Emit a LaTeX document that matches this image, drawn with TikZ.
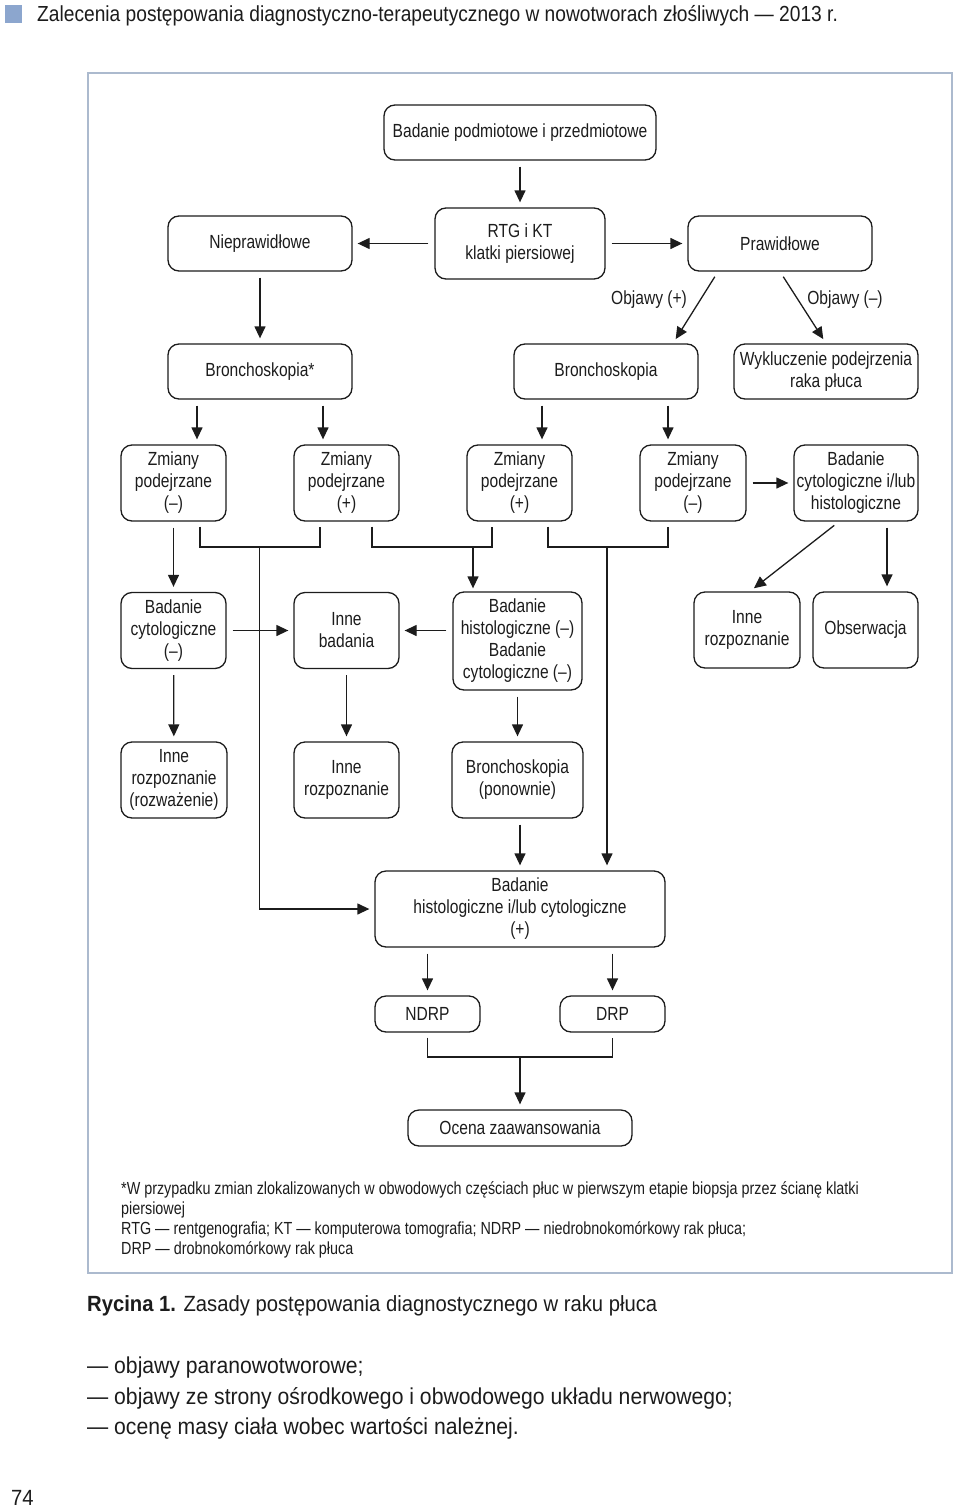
\documentclass[tikz,border=0pt]{standalone}
\usepackage{fontspec}
\setmainfont{Liberation Sans}[FakeStretch=0.82]
\newfontfamily\widerfont{Liberation Sans}[FakeStretch=0.88]
\newfontfamily\widestfont{Liberation Sans}[FakeStretch=0.92]
\usetikzlibrary{arrows.meta,calc}
\definecolor{frameblue}{RGB}{172,186,206}
\definecolor{sqblue}{RGB}{140,166,206}
\definecolor{ink}{RGB}{28,28,28}
\begin{document}
\begin{tikzpicture}[x=1pt,y=-1pt,
  box/.style={draw=ink, line width=1.3pt, rounded corners=11pt, align=center, inner sep=0pt, font=\fontsize{19}{22}\selectfont, text=ink},
  sz/.style 2 args={minimum width=#1, minimum height=#2},
  ln/.style={draw=ink, line width=1.3pt},
  arr/.style={ln, -{Triangle[length=12pt,width=11pt]}, shorten >=5pt, shorten <=6pt},
  lbl/.style={font=\fontsize{19}{22}\selectfont, text=ink, inner sep=0pt},
  txt/.style={text=ink, inner sep=0pt, align=left},
]
\useasboundingbox (0,0) rectangle (960,1509);
% header
\fill[sqblue] (5,5) rectangle (22,23);
\node[txt, anchor=west, font=\widerfont\fontsize{21.8}{24}\selectfont] (hdr) at (37,16) {Zalecenia postępowania diagnostyczno-terapeutycznego w nowotworach złośliwych — 2013 r.};
% frame
\draw[frameblue, line width=1.5pt] (88,73) rectangle (952,1273);

% nodes
\node[box, sz={272pt}{55pt}] (top) at (520,132.5) {Badanie podmiotowe i przedmiotowe};
\node[box, sz={170pt}{71pt}] (rtg) at (520,243.5) {RTG i KT\\klatki piersiowej};
\node[box, sz={184pt}{55pt}] (niep) at (260,243.5) {Nieprawidłowe};
\node[box, sz={184pt}{55pt}] (praw) at (780,243.5) {Prawidłowe};
\node[box, sz={184pt}{55pt}] (br1) at (260,371.5) {Bronchoskopia*};
\node[box, sz={184pt}{55pt}] (br2) at (606,371.5) {Bronchoskopia};
\node[box, sz={184pt}{55pt}] (wyk) at (826,371.5) {Wykluczenie podejrzenia\\raka płuca};

\node[box, sz={105pt}{76pt}] (z1) at (173.5,483) {Zmiany\\podejrzane\\(–)};
\node[box, sz={105pt}{76pt}] (z2) at (346.5,483) {Zmiany\\podejrzane\\(+)};
\node[box, sz={105pt}{76pt}] (z3) at (519.5,483) {Zmiany\\podejrzane\\(+)};
\node[box, sz={106pt}{76pt}] (z4) at (693,483) {Zmiany\\podejrzane\\(–)};
\node[box, sz={124pt}{76pt}] (bcyt) at (856,483) {Badanie\\cytologiczne i/lub\\histologiczne};

\node[box, sz={105pt}{76pt}] (bc) at (173.5,630.5) {Badanie\\cytologiczne\\(–)};
\node[box, sz={105pt}{76pt}] (inneb) at (346.5,630.5) {Inne\\badania};
\node[box, sz={129pt}{98pt}] (bh) at (517.5,641) {Badanie\\histologiczne (–)\\Badanie\\cytologiczne (–)};
\node[box, sz={106pt}{76pt}] (innr) at (747,630) {Inne\\rozpoznanie};
\node[box, sz={105pt}{76pt}] (obs) at (865.5,630) {Obserwacja};

\node[box, sz={106pt}{76pt}] (irr) at (174,780) {Inne\\rozpoznanie\\(rozważenie)};
\node[box, sz={105pt}{76pt}] (ir2) at (346.5,780) {Inne\\rozpoznanie};
\node[box, sz={131pt}{76pt}] (brp) at (517.5,780) {Bronchoskopia\\(ponownie)};

\node[box, sz={290pt}{76pt}] (bhc) at (520,909) {Badanie\\histologiczne i/lub cytologiczne\\(+)};
\node[box, sz={105pt}{36pt}] (ndrp) at (427.5,1014) {NDRP};
\node[box, sz={105pt}{36pt}] (drp) at (612.5,1014) {DRP};
\node[box, sz={224pt}{36pt}] (ocena) at (520,1128) {Ocena zaawansowania};

% labels
\node[lbl] (objp) at (649,300) {Objawy (+)};
\node[lbl] (objm) at (845,300) {Objawy (–)};

% connectors
\draw[arr] (top) -- (rtg);
\draw[arr] (rtg) -- (niep);
\draw[arr] (rtg) -- (praw);
\draw[arr] (niep) -- (br1);
\draw[arr] ([xshift=-62pt]praw.south) -- ([xshift=67pt]br2.north);
\draw[arr] (praw.south) -- (wyk.north);

\draw[arr] ([xshift=-63pt]br1.south) -- ([xshift=-63pt]br1.south |- z1.north);
\draw[arr] ([xshift=63pt]br1.south) -- ([xshift=63pt]br1.south |- z2.north);
\draw[arr] ([xshift=-64pt]br2.south) -- ([xshift=-64pt]br2.south |- z3.north);
\draw[arr] ([xshift=62pt]br2.south) -- ([xshift=62pt]br2.south |- z4.north);
\draw[arr] (z4) -- (bcyt);

% brackets
\coordinate (j1) at (259.5,547);
\coordinate (j2) at (473,547);
\coordinate (j3) at (607,547);
\draw[ln, shorten <=5pt, shorten >=5pt] ([xshift=26.5pt]z1.south) |- (j1) -| ([xshift=-26.5pt]z2.south);
\draw[ln, shorten <=5pt, shorten >=5pt] ([xshift=25.5pt]z2.south) |- (j2) -| ([xshift=-27.5pt]z3.south);
\draw[ln, shorten <=5pt, shorten >=5pt] ([xshift=28.5pt]z3.south) |- (j3) -| ([xshift=-25pt]z4.south);
\draw[arr, shorten <=0pt] (j1) |- (bhc.west);
\draw[arr, shorten <=0pt, shorten >=3pt] (j2) -- (j2 |- bh.north);
\draw[arr, shorten <=0pt] (j3) -- (j3 |- bhc.north);

\draw[arr] (z1) -- (bc);
\draw[arr] ([xshift=-17pt]bcyt.south) -- ([xshift=3pt]innr.north);
\draw[arr] ([xshift=31pt]bcyt.south) -- ([xshift=31pt]bcyt.south |- obs.north);

\draw[arr] (bc) -- (inneb);
\draw[arr] (inneb.east -| bh.west) -- (inneb.east);

\draw[arr] (bc) -- (irr);
\draw[arr] (inneb) -- (ir2);
\draw[arr] (bh.south -| brp) -- (brp.north);
\draw[arr] (bhc.north |- brp.south) -- (bhc.north);

\draw[arr] (ndrp |- bhc.south) -- (ndrp.north);
\draw[arr] (drp |- bhc.south) -- (drp.north);
\coordinate (j4) at (520,1057);
\draw[ln, shorten <=5pt, shorten >=5pt] (ndrp.south) |- (j4) -| (drp.south);
\draw[arr, shorten <=0pt] (j4) -- (ocena.north);

% footnote
\node[txt, anchor=north west, font=\fontsize{17.5}{20}\selectfont] (foot) at (121,1181) {*W przypadku zmian zlokalizowanych w obwodowych częściach płuc w pierwszym etapie biopsja przez ścianę klatki\\piersiowej\\RTG — rentgenografia; KT — komputerowa tomografia; NDRP — niedrobnokomórkowy rak płuca;\\DRP — drobnokomórkowy rak płuca};

% caption and body text
\node[txt, anchor=west, font=\widestfont\fontsize{22}{24}\selectfont] (ryc) at (87,1306) {\textbf{Rycina 1.} Zasady postępowania diagnostycznego w raku płuca};
\node[txt, anchor=west, font=\widestfont\fontsize{23}{30}\selectfont] (b1) at (87,1368) {— objawy paranowotworowe;};
\node[txt, anchor=west, font=\widestfont\fontsize{23}{30}\selectfont] (b2) at (87,1398) {— objawy ze strony ośrodkowego i obwodowego układu nerwowego;};
\node[txt, anchor=west, font=\widestfont\fontsize{23}{30}\selectfont] (b3) at (87,1428) {— ocenę masy ciała wobec wartości należnej.};
\node[txt, anchor=west, font=\widestfont\fontsize{22}{24}\selectfont] (pg) at (11,1498) {74};
\end{tikzpicture}
\end{document}
